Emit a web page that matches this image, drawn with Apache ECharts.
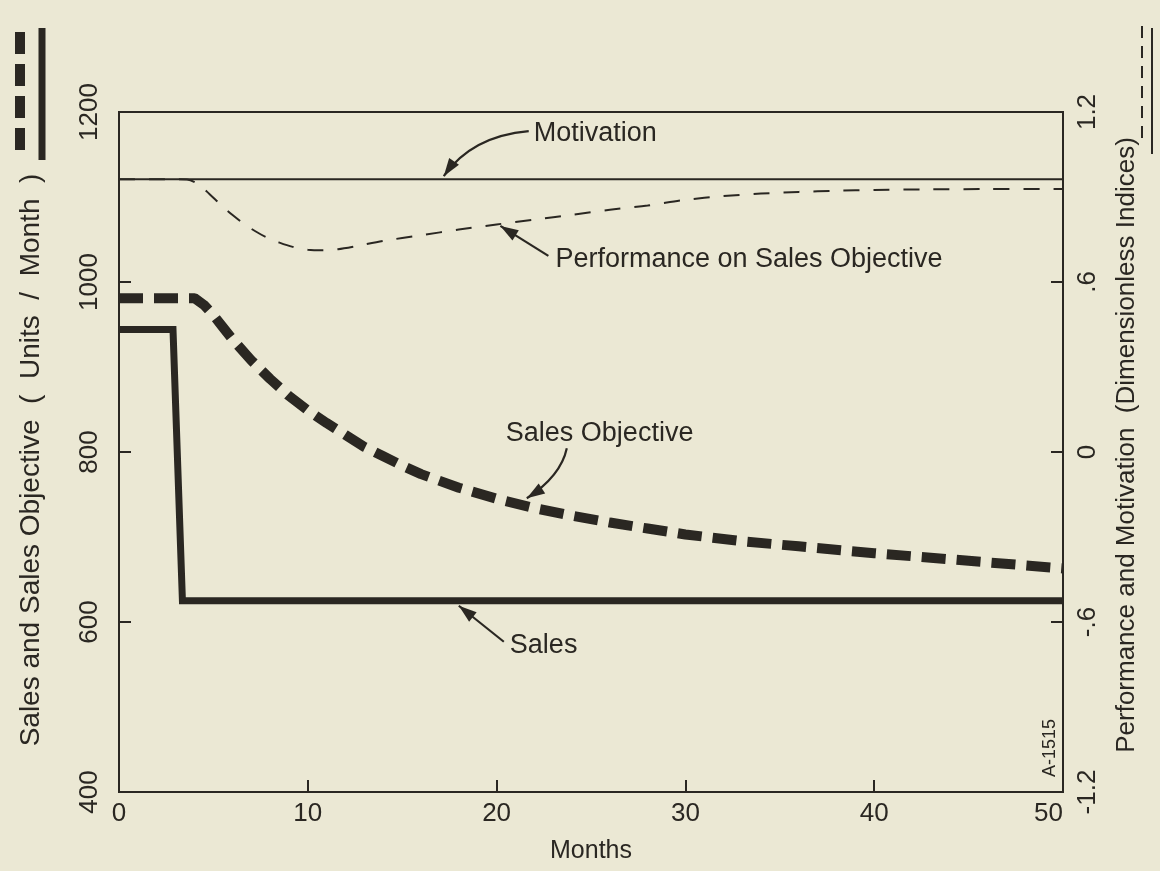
<!DOCTYPE html>
<html>
<head>
<meta charset="utf-8">
<title>Sales, Sales Objective, Performance and Motivation</title>
<script src="https://cdn.jsdelivr.net/npm/echarts@6/dist/echarts.min.js"></script>
<style>
  html, body { margin: 0; padding: 0; background: #ebe8d4; }
  #chart { width: 1160px; height: 871px; }
</style>
</head>
<body>
<div id="chart"></div>
<script>
// ---- data -------------------------------------------------------------
const monthTicks = [0, 10, 20, 30, 40, 50];
const salesTicks = [400, 600, 800, 1000, 1200];
const indexTicks = [-1.2, -0.6, 0, 0.6, 1.2];
const indexTickLabels = ['-1.2', '-.6', '0', '.6', '1.2'];

// Sales (units / month)
const salesMonths = [0, 2.86, 3.36, 50];
const salesValues = [944, 944, 625, 625];

// Sales objective (units / month)
const objectiveMonths = [0, 4, 4.5, 5, 5.5, 6, 7, 8, 9, 10, 11, 12, 13, 14, 15, 16,
                         18, 20, 22, 24, 26, 28, 30, 33, 36, 40, 45, 50];
const objectiveValues = [981, 981, 973, 961, 947, 933, 908, 886, 866, 849, 834, 820, 806, 795, 784, 774,
                         758, 745, 734, 725, 717, 710, 703, 695, 689, 681, 672, 663];

// Performance on sales objective (dimensionless index)
const performanceMonths = [0, 2, 3, 3.6, 4.2, 4.8, 5.4, 6, 6.6, 7.2, 7.8, 8.5, 9.2, 10, 10.8, 11.6,
                           12.5, 14, 16, 18, 20, 22, 24, 26, 28, 30, 32, 34, 36, 38, 40, 43, 46, 50];
const performanceValues = [0.963, 0.963, 0.963, 0.962, 0.945, 0.91, 0.872, 0.837, 0.806, 0.78, 0.758, 0.739, 0.724, 0.714, 0.712, 0.716,
                           0.726, 0.745, 0.765, 0.785, 0.803, 0.82, 0.837, 0.855, 0.87, 0.89, 0.903, 0.912, 0.918, 0.922, 0.925, 0.927, 0.928, 0.928];

// Motivation (dimensionless index)
const motivationMonths = [0, 50];
const motivationValues = [0.963, 0.963];

// ---- styling ----------------------------------------------------------
const ink = '#2a2722';
const paper = '#ebe8d4';
const fontFamily = '"Liberation Sans", Arial, sans-serif';

const zip = (xs, ys) => xs.map((x, i) => [x, ys[i]]);
const last = a => a[a.length - 1];

const chart = echarts.init(document.getElementById('chart'), null, { renderer: 'canvas' });

const axisLabelStyle = { color: ink, fontFamily, fontSize: 26 };
const frameLine = { show: true, onZero: false, lineStyle: { color: ink, width: 2 } };
const innerTick = { show: true, inside: true, length: 12, lineStyle: { color: ink, width: 2 } };

chart.setOption({
  backgroundColor: paper,
  animation: false,
  textStyle: { fontFamily, color: ink },
  grid: {
    left: 119, right: 97, top: 112, bottom: 79,
    show: true, borderColor: ink, borderWidth: 2, backgroundColor: 'transparent'
  },
  xAxis: {
    type: 'value',
    min: monthTicks[0], max: last(monthTicks), interval: monthTicks[1] - monthTicks[0],
    name: 'Months', nameLocation: 'middle', nameGap: 47,
    nameTextStyle: { color: ink, fontFamily, fontSize: 25 },
    axisLine: frameLine,
    axisTick: innerTick,
    axisLabel: Object.assign({ margin: 9, alignMaxLabel: 'right' }, axisLabelStyle),
    splitLine: { show: false }
  },
  yAxis: [
    {
      type: 'value', position: 'left',
      min: salesTicks[0], max: last(salesTicks), interval: salesTicks[1] - salesTicks[0],
      name: 'Sales and Sales Objective  (  Units  /  Month  )',
      nameLocation: 'middle', nameRotate: 90, nameGap: 74,
      nameTextStyle: { color: ink, fontFamily, fontSize: 28, padding: [0, 16, 0, 0] },
      axisLine: frameLine,
      axisTick: innerTick,
      axisLabel: Object.assign({ rotate: 90, margin: 16, formatter: v => String(v) }, axisLabelStyle),
      splitLine: { show: false }
    },
    {
      type: 'value', position: 'right',
      min: indexTicks[0], max: last(indexTicks), interval: 0.6,
      name: 'Performance and Motivation  (Dimensionless Indices)',
      nameLocation: 'middle', nameRotate: 90, nameGap: 51,
      nameTextStyle: { color: ink, fontFamily, fontSize: 26, padding: [0, 0, 0, 14] },
      axisLine: frameLine,
      axisTick: innerTick,
      axisLabel: Object.assign({
        rotate: 90, margin: 12,
        formatter: v => {
          const i = indexTicks.findIndex(t => Math.abs(t - v) < 1e-6);
          return i >= 0 ? indexTickLabels[i] : String(v);
        }
      }, axisLabelStyle),
      splitLine: { show: false }
    }
  ],
  series: [
    {
      name: 'Sales', type: 'line', yAxisIndex: 0,
      data: zip(salesMonths, salesValues),
      showSymbol: false, smooth: false, z: 4,
      lineStyle: { color: ink, width: 7, join: 'miter', cap: 'butt' }
    },
    {
      name: 'Sales Objective', type: 'line', yAxisIndex: 0,
      data: zip(objectiveMonths, objectiveValues),
      showSymbol: false, smooth: false, z: 4,
      lineStyle: { color: ink, width: 10, type: [24, 11], cap: 'butt' }
    },
    {
      name: 'Performance on Sales Objective', type: 'line', yAxisIndex: 1,
      data: zip(performanceMonths, performanceValues),
      showSymbol: false, smooth: 0.3, z: 3,
      lineStyle: { color: ink, width: 2, type: [16, 14] }
    },
    {
      name: 'Motivation', type: 'line', yAxisIndex: 1,
      data: zip(motivationMonths, motivationValues),
      showSymbol: false, smooth: false, z: 3,
      lineStyle: { color: ink, width: 2 }
    }
  ]
});

// ---- annotations: label + arrow pointing at a point of a series ---------
// tip: the point of the series the arrow touches (data coordinates)
// tail / text0 / ctrl: pixel offsets from the tip
const notes = [
  { text: 'Motivation', series: 3, tip: [17.2, motivationValues[0]], tipShift: [0, -3],
    tail: [85, -45], text0: [90, -43], ctrl: [28, -40] },
  { text: 'Performance on Sales Objective', series: 2, tip: [20.2, 0.805], tipShift: [0, 2],
    tail: [48, 30], text0: [55, 34] },
  { text: 'Sales Objective', series: 1, tip: [21.6, 735], tipShift: [0, -9],
    tail: [40, -50], text0: [-21, -65], ctrl: [34, -22] },
  { text: 'Sales', series: 0, tip: [18, salesValues[2]], tipShift: [0, 5],
    tail: [45, 36], text0: [51, 40] }
];

function arrowHead(tx, ty, fromX, fromY) {
  const dx = tx - fromX, dy = ty - fromY;
  const len = Math.hypot(dx, dy) || 1;
  const ux = dx / len, uy = dy / len;
  const L = 18, W = 6;
  const bx = tx - ux * L, by = ty - uy * L;
  return [[tx, ty], [bx - uy * W, by + ux * W], [bx + uy * W, by - ux * W]];
}

const graphics = [];
notes.forEach((n, k) => {
  const p = chart.convertToPixel({ seriesIndex: n.series }, n.tip);
  const tx = p[0] + n.tipShift[0], ty = p[1] + n.tipShift[1];
  const sx = tx + n.tail[0], sy = ty + n.tail[1];
  let fromX = sx, fromY = sy;
  if (n.ctrl) {
    const cx = tx + n.ctrl[0], cy = ty + n.ctrl[1];
    graphics.push({ type: 'bezierCurve', id: 'arrow' + k, z: 10,
      shape: { x1: sx, y1: sy, x2: tx, y2: ty, cpx1: cx, cpy1: cy },
      style: { stroke: ink, lineWidth: 2.2, fill: null } });
    fromX = cx; fromY = cy;
  } else {
    graphics.push({ type: 'line', id: 'arrow' + k, z: 10,
      shape: { x1: sx, y1: sy, x2: tx, y2: ty },
      style: { stroke: ink, lineWidth: 2.2 } });
  }
  graphics.push({ type: 'polygon', id: 'head' + k, z: 10,
    shape: { points: arrowHead(tx, ty, fromX, fromY) },
    style: { fill: ink } });
  graphics.push({ type: 'text', id: 'note' + k, z: 10,
    x: tx + n.text0[0], y: ty + n.text0[1],
    style: { text: n.text, fill: ink, fontFamily, fontSize: 27, align: 'left', verticalAlign: 'middle' } });
});

// drawing number, written sideways in the lower right corner of the plot
graphics.push({ type: 'text', id: 'drawingNo', z: 10, x: 1050, y: 748, rotation: Math.PI / 2,
  style: { text: 'A-1515', fill: ink, fontFamily, fontSize: 18, align: 'center', verticalAlign: 'middle' } });

// line-style keys beside the two axis titles
const keys = [
  { x: 20, y1: 32, y2: 158, width: 10, dash: [22, 10] },
  { x: 42, y1: 28, y2: 160, width: 7, dash: null },
  { x: 1142, y1: 26, y2: 146, width: 2, dash: [12, 8] },
  { x: 1152, y1: 28, y2: 154, width: 2, dash: null }
];
keys.forEach((kk, i) => {
  graphics.push({ type: 'line', id: 'key' + i, z: 10,
    shape: { x1: kk.x, y1: kk.y1, x2: kk.x, y2: kk.y2 },
    style: { stroke: ink, lineWidth: kk.width, lineDash: kk.dash, lineCap: 'butt' } });
});

chart.setOption({ graphic: graphics });
</script>
</body>
</html>
